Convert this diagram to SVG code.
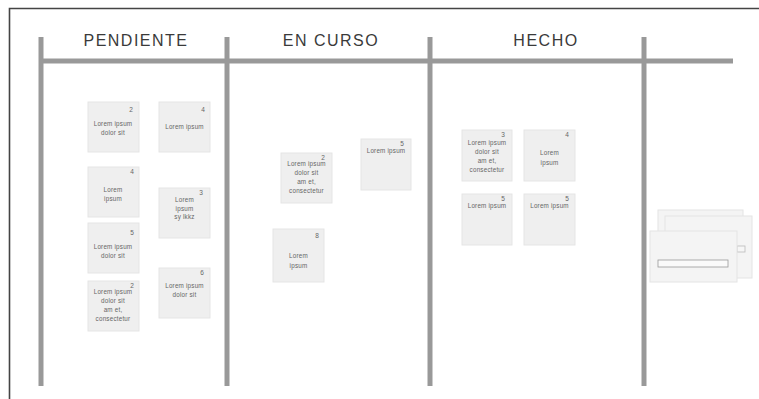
<svg xmlns="http://www.w3.org/2000/svg" width="759" height="399" viewBox="0 0 759 399">
<style>
.hdr{font-family:"Liberation Sans",Arial,sans-serif;font-size:16px;fill:#3a3a3a;letter-spacing:1.5px;text-anchor:middle}
.lane{stroke:#999;stroke-width:5;fill:none}
.note{fill:#efefef;stroke:#e5e5e5;stroke-width:1}
.t{font-family:"Liberation Sans",Arial,sans-serif;font-size:6.3px;fill:#666;text-anchor:middle;letter-spacing:0.2px}
.n{font-family:"Liberation Sans",Arial,sans-serif;font-size:6.5px;fill:#666;text-anchor:middle}
.card{fill:#f4f4f4;stroke:#e4e4e4;stroke-width:1}
</style>
<rect width="759" height="399" fill="#fff"/>
<g id="frame">
<path d="M9.5,399 V8.5 H759" fill="none" stroke="#444" stroke-width="1.6"/>
</g>
<g id="lanes">
<line class="lane" x1="41" y1="37" x2="41" y2="386"/>
<line class="lane" x1="227" y1="37" x2="227" y2="386"/>
<line class="lane" x1="430" y1="37" x2="430" y2="386"/>
<line class="lane" x1="644" y1="37" x2="644" y2="386"/>
<line class="lane" x1="41" y1="61" x2="733" y2="61"/>
</g>
<g id="headers">
<text class="hdr" x="136" y="46">PENDIENTE</text>
<text class="hdr" x="331" y="46">EN  CURSO</text>
<text class="hdr" x="546" y="46">HECHO</text>
</g>
<g id="p1"><rect class="note" x="88" y="102" width="51" height="50"/><text class="n" x="131" y="112">2</text><text class="t" x="113" y="126">Lorem ipsum</text><text class="t" x="113" y="134.5">dolor sit</text></g>
<g id="p2"><rect class="note" x="159" y="102" width="51" height="50"/><text class="n" x="203" y="112">4</text><text class="t" x="184.5" y="129">Lorem ipsum</text></g>
<g id="p3"><rect class="note" x="88" y="167" width="51" height="50"/><text class="n" x="132" y="174">4</text><text class="t" x="113" y="192">Lorem</text><text class="t" x="113" y="201">ipsum</text></g>
<g id="p4"><rect class="note" x="159" y="188" width="51" height="50"/><text class="n" x="201" y="195">3</text><text class="t" x="184.5" y="202">Lorem</text><text class="t" x="184.5" y="210.5">ipsum</text><text class="t" x="184.5" y="219">sy lkkz</text></g>
<g id="p5"><rect class="note" x="88" y="223" width="51" height="50"/><text class="n" x="132" y="235">5</text><text class="t" x="113" y="249">Lorem ipsum</text><text class="t" x="113" y="257.5">dolor sit</text></g>
<g id="p6"><rect class="note" x="88" y="281" width="51" height="50"/><text class="n" x="132" y="288">2</text><text class="t" x="113" y="294">Lorem ipsum</text><text class="t" x="113" y="303">dolor sit</text><text class="t" x="113" y="312">am et,</text><text class="t" x="113" y="321">consectetur</text></g>
<g id="p7"><rect class="note" x="159" y="268" width="51" height="50"/><text class="n" x="202" y="275">6</text><text class="t" x="184.5" y="288">Lorem ipsum</text><text class="t" x="184.5" y="296.5">dolor sit</text></g>
<g id="c1"><rect class="note" x="281" y="153" width="51" height="50"/><text class="n" x="323" y="160">2</text><text class="t" x="306.5" y="166">Lorem ipsum</text><text class="t" x="306.5" y="175">dolor sit</text><text class="t" x="306.5" y="184">am et,</text><text class="t" x="306.5" y="193">consectetur</text></g>
<g id="c2"><rect class="note" x="361" y="139" width="50" height="51"/><text class="n" x="402" y="146">5</text><text class="t" x="386" y="153">Lorem ipsum</text></g>
<g id="c3"><rect class="note" x="273" y="229" width="51" height="53"/><text class="n" x="317" y="238">8</text><text class="t" x="298.5" y="258">Lorem</text><text class="t" x="298.5" y="268">ipsum</text></g>
<g id="h1"><rect class="note" x="462" y="130" width="50" height="51"/><text class="n" x="503" y="137">3</text><text class="t" x="487" y="145">Lorem ipsum</text><text class="t" x="487" y="154">dolor sit</text><text class="t" x="487" y="163">am et,</text><text class="t" x="487" y="171.5">consectetur</text></g>
<g id="h2"><rect class="note" x="524" y="130" width="51" height="51"/><text class="n" x="567" y="137">4</text><text class="t" x="549.5" y="155">Lorem</text><text class="t" x="549.5" y="165">ipsum</text></g>
<g id="h3"><rect class="note" x="462" y="194" width="50" height="51"/><text class="n" x="503" y="201">5</text><text class="t" x="487" y="208">Lorem ipsum</text></g>
<g id="h4"><rect class="note" x="524" y="194" width="51" height="51"/><text class="n" x="567" y="201">5</text><text class="t" x="549.5" y="208">Lorem ipsum</text></g>
<g id="cards">
<rect class="card" x="658" y="210" width="85" height="65"/>
<rect class="card" x="665" y="216" width="87" height="62"/>
<rect x="737" y="246" width="8" height="6" fill="#f6f6f6" stroke="#bbb" stroke-width="0.8"/>
<rect class="card" x="650" y="231" width="87" height="51"/>
<rect x="658" y="260" width="70" height="7" fill="#fafafa" stroke="#999" stroke-width="0.8"/>
</g>
</svg>
